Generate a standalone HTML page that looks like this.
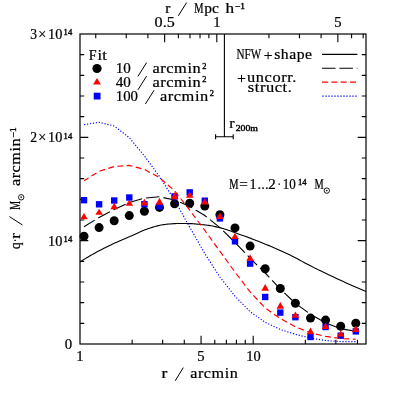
<!DOCTYPE html>
<html><head><meta charset="utf-8"><title>plot</title>
<style>
html,body{margin:0;padding:0;background:#fff;}
#c{will-change:transform;position:relative;width:399px;height:399px;overflow:hidden;background:#fff;font-family:"Liberation Serif",serif;color:#000;}
</style></head><body>
<div id="c">
<svg width="399" height="399" viewBox="0 0 399 399" style="position:absolute;left:0;top:0">
<rect x="0" y="0" width="399" height="399" fill="#fff"/>
<rect x="80.0" y="34.0" width="286.0" height="310.0" fill="none" stroke="#000" stroke-width="1.2"/>
<path d="M132.14,344.0 v-4.2 M162.64,344.0 v-4.2 M184.28,344.0 v-4.2 M201.06,344.0 v-8.3 M214.78,344.0 v-4.2 M226.37,344.0 v-4.2 M236.42,344.0 v-4.2 M245.27,344.0 v-4.2 M253.20,344.0 v-8.3 M305.34,344.0 v-4.2 M335.84,344.0 v-4.2 M357.48,344.0 v-4.2 M95.74,34.0 v4.2 M126.24,34.0 v4.2 M147.88,34.0 v4.2 M164.66,34.0 v8.3 M178.38,34.0 v4.2 M189.97,34.0 v4.2 M200.02,34.0 v4.2 M208.87,34.0 v4.2 M216.80,34.0 v8.3 M268.94,34.0 v4.2 M299.44,34.0 v4.2 M321.08,34.0 v4.2 M337.86,34.0 v8.3 M351.58,34.0 v4.2 M363.17,34.0 v4.2 M80.0,323.33 h4.2 M366.0,323.33 h-4.2 M80.0,302.67 h4.2 M366.0,302.67 h-4.2 M80.0,282.00 h4.2 M366.0,282.00 h-4.2 M80.0,261.33 h4.2 M366.0,261.33 h-4.2 M80.0,240.67 h8.3 M366.0,240.67 h-8.3 M80.0,220.00 h4.2 M366.0,220.00 h-4.2 M80.0,199.33 h4.2 M366.0,199.33 h-4.2 M80.0,178.67 h4.2 M366.0,178.67 h-4.2 M80.0,158.00 h4.2 M366.0,158.00 h-4.2 M80.0,137.33 h8.3 M366.0,137.33 h-8.3 M80.0,116.67 h4.2 M366.0,116.67 h-4.2 M80.0,96.00 h4.2 M366.0,96.00 h-4.2 M80.0,75.33 h4.2 M366.0,75.33 h-4.2 M80.0,54.67 h4.2 M366.0,54.67 h-4.2" fill="none" stroke="#000" stroke-width="1.1"/>
<g fill="#000"><circle cx="84.0" cy="236.3" r="4.5"/><circle cx="99.1" cy="227.6" r="4.5"/><circle cx="114.2" cy="220.8" r="4.5"/><circle cx="129.3" cy="215.6" r="4.5"/><circle cx="144.4" cy="211.3" r="4.5"/><circle cx="159.5" cy="207.4" r="4.5"/><circle cx="174.6" cy="203.8" r="4.5"/><circle cx="189.7" cy="203.2" r="4.5"/><circle cx="204.8" cy="206.1" r="4.5"/><circle cx="219.9" cy="214.7" r="4.5"/><circle cx="235.0" cy="227.9" r="4.5"/><circle cx="250.1" cy="246.1" r="4.5"/><circle cx="265.2" cy="268.8" r="4.5"/><circle cx="280.3" cy="288.5" r="4.5"/><circle cx="295.4" cy="303.2" r="4.5"/><circle cx="310.5" cy="318.1" r="4.5"/><circle cx="325.6" cy="320.1" r="4.5"/><circle cx="340.7" cy="326.3" r="4.5"/><circle cx="355.8" cy="323.2" r="4.5"/></g>
<path d="M80.00,262.00 L80.30,261.80 L80.56,261.63 L80.78,261.47 L80.98,261.33 L81.18,261.18 L81.40,261.02 L81.65,260.85 L81.96,260.65 L82.32,260.42 L82.78,260.13 L83.33,259.80 L84.00,259.40 L84.79,258.93 L85.69,258.40 L86.69,257.81 L87.77,257.17 L88.92,256.50 L90.11,255.81 L91.35,255.09 L92.61,254.37 L93.88,253.65 L95.14,252.94 L96.39,252.26 L97.60,251.60 L98.81,250.96 L100.05,250.31 L101.32,249.65 L102.61,249.00 L103.90,248.34 L105.20,247.69 L106.49,247.05 L107.77,246.43 L109.03,245.81 L110.26,245.22 L111.45,244.65 L112.60,244.10 L113.71,243.58 L114.80,243.08 L115.86,242.59 L116.90,242.13 L117.92,241.68 L118.92,241.24 L119.91,240.82 L120.87,240.40 L121.82,240.00 L122.76,239.59 L123.69,239.20 L124.60,238.80 L125.49,238.41 L126.35,238.04 L127.19,237.69 L128.00,237.34 L128.80,237.00 L129.59,236.67 L130.37,236.34 L131.16,236.00 L131.95,235.67 L132.75,235.32 L133.56,234.97 L134.40,234.60 L135.24,234.22 L136.07,233.83 L136.89,233.44 L137.71,233.03 L138.54,232.63 L139.38,232.22 L140.23,231.81 L141.11,231.40 L142.02,230.99 L142.97,230.59 L143.96,230.19 L145.00,229.80 L146.10,229.41 L147.24,229.00 L148.44,228.59 L149.67,228.17 L150.93,227.76 L152.22,227.36 L153.52,226.96 L154.83,226.58 L156.14,226.22 L157.44,225.88 L158.73,225.58 L160.00,225.30 L161.26,225.05 L162.52,224.83 L163.79,224.64 L165.06,224.46 L166.33,224.31 L167.59,224.17 L168.86,224.05 L170.12,223.94 L171.38,223.84 L172.63,223.75 L173.87,223.67 L175.10,223.60 L176.35,223.54 L177.63,223.50 L178.94,223.47 L180.25,223.46 L181.56,223.46 L182.84,223.47 L184.10,223.49 L185.31,223.51 L186.46,223.54 L187.53,223.56 L188.52,223.58 L189.40,223.60 L190.14,223.61 L190.73,223.62 L191.19,223.62 L191.56,223.63 L191.87,223.63 L192.16,223.64 L192.44,223.66 L192.76,223.69 L193.14,223.72 L193.62,223.77 L194.23,223.83 L195.00,223.90 L195.92,223.99 L196.95,224.08 L198.09,224.18 L199.30,224.29 L200.58,224.41 L201.91,224.54 L203.27,224.69 L204.64,224.84 L206.02,225.01 L207.39,225.19 L208.72,225.39 L210.00,225.60 L211.26,225.83 L212.52,226.07 L213.79,226.33 L215.06,226.60 L216.33,226.89 L217.59,227.19 L218.86,227.50 L220.12,227.82 L221.38,228.15 L222.63,228.49 L223.87,228.84 L225.10,229.20 L226.33,229.58 L227.57,229.98 L228.82,230.40 L230.06,230.84 L231.30,231.28 L232.53,231.74 L233.74,232.19 L234.94,232.64 L236.10,233.08 L237.24,233.51 L238.34,233.92 L239.40,234.30 L240.38,234.65 L241.27,234.96 L242.09,235.24 L242.86,235.51 L243.60,235.76 L244.34,236.02 L245.10,236.28 L245.90,236.57 L246.77,236.89 L247.73,237.24 L248.80,237.64 L250.00,238.10 L251.34,238.62 L252.80,239.18 L254.36,239.78 L256.00,240.42 L257.71,241.08 L259.46,241.78 L261.25,242.48 L263.06,243.20 L264.86,243.93 L266.65,244.66 L268.40,245.38 L270.10,246.10 L271.77,246.81 L273.44,247.52 L275.11,248.24 L276.78,248.97 L278.45,249.70 L280.11,250.44 L281.78,251.19 L283.44,251.95 L285.11,252.72 L286.77,253.50 L288.44,254.29 L290.10,255.10 L291.78,255.93 L293.48,256.80 L295.19,257.69 L296.92,258.60 L298.64,259.53 L300.36,260.45 L302.05,261.37 L303.73,262.27 L305.36,263.16 L306.96,264.01 L308.51,264.83 L310.00,265.60 L311.41,266.32 L312.74,266.99 L314.00,267.62 L315.21,268.22 L316.38,268.80 L317.54,269.37 L318.70,269.93 L319.88,270.50 L321.09,271.08 L322.36,271.69 L323.69,272.32 L325.10,273.00 L326.59,273.71 L328.14,274.46 L329.73,275.22 L331.37,276.00 L333.04,276.80 L334.74,277.60 L336.45,278.41 L338.19,279.22 L339.92,280.03 L341.66,280.83 L343.39,281.62 L345.10,282.40 L346.81,283.16 L348.53,283.92 L350.26,284.68 L352.00,285.43 L353.74,286.18 L355.49,286.92 L357.25,287.67 L359.00,288.41 L360.75,289.16 L362.51,289.90 L364.26,290.65 L366.00,291.40" fill="none" stroke="#000" stroke-width="1.1"/>
<path d="M84.00,226.80 L99.10,217.40 L114.20,209.40 L129.30,202.50 L144.40,198.10 L159.50,196.80 L174.60,200.00 L189.70,206.30 L204.80,215.50 L219.90,227.60 L235.00,242.50 L250.10,258.20 L265.20,273.00 L280.30,289.10 L295.40,303.30 L310.50,314.30 L325.60,322.90 L340.70,328.80 L355.80,331.30" fill="none" stroke="#000" stroke-width="1.1" stroke-dasharray="13.3 4.1" stroke-dashoffset="0.7" stroke-linejoin="round"/>
<g fill="#00f"><rect x="80.8" y="197.0" width="6.4" height="6.4"/><rect x="95.9" y="201.1" width="6.4" height="6.4"/><rect x="111.0" y="197.3" width="6.4" height="6.4"/><rect x="126.1" y="194.3" width="6.4" height="6.4"/><rect x="141.2" y="201.0" width="6.4" height="6.4"/><rect x="156.3" y="203.0" width="6.4" height="6.4"/><rect x="171.4" y="193.2" width="6.4" height="6.4"/><rect x="186.5" y="189.2" width="6.4" height="6.4"/><rect x="201.6" y="197.5" width="6.4" height="6.4"/><rect x="216.7" y="215.2" width="6.4" height="6.4"/><rect x="231.8" y="238.1" width="6.4" height="6.4"/><rect x="246.9" y="260.4" width="6.4" height="6.4"/><rect x="262.0" y="293.8" width="6.4" height="6.4"/><rect x="277.1" y="309.4" width="6.4" height="6.4"/><rect x="292.2" y="314.0" width="6.4" height="6.4"/><rect x="307.3" y="333.8" width="6.4" height="6.4"/><rect x="322.4" y="323.8" width="6.4" height="6.4"/><rect x="337.5" y="332.5" width="6.4" height="6.4"/><rect x="352.6" y="328.2" width="6.4" height="6.4"/></g>
<path d="M84.00,124.60 L99.10,122.30 L114.20,126.00 L129.30,137.70 L144.40,155.90 L159.50,176.40 L174.60,200.30 L189.70,227.10 L204.80,253.60 L219.90,277.00 L235.00,296.20 L250.10,311.60 L265.20,322.30 L280.30,329.50 L295.40,334.30 L310.50,338.10 L325.60,340.50 L340.70,341.60 L355.80,341.60" fill="none" stroke="#00f" stroke-width="1.15" stroke-dasharray="1.2 1.76" stroke-dashoffset="-0.1" stroke-linejoin="round"/>
<g fill="#f00"><path d="M84.0,212.9 L87.8,219.3 L80.2,219.3Z"/><path d="M99.1,208.8 L102.9,214.8 L95.3,214.8Z"/><path d="M114.2,202.8 L118.0,209.2 L110.4,209.2Z"/><path d="M129.3,199.8 L133.1,205.8 L125.5,205.8Z"/><path d="M144.4,198.8 L148.2,205.6 L140.6,205.6Z"/><path d="M159.5,197.7 L163.3,204.8 L155.7,204.8Z"/><path d="M174.6,192.0 L178.4,199.2 L170.8,199.2Z"/><path d="M189.7,191.8 L193.5,197.8 L185.9,197.8Z"/><path d="M204.8,198.6 L208.6,204.6 L201.0,204.6Z"/><path d="M219.9,212.6 L223.7,218.9 L216.1,218.9Z"/><path d="M235.0,232.9 L238.8,238.9 L231.2,238.9Z"/><path d="M250.1,254.5 L253.9,260.7 L246.3,260.7Z"/><path d="M265.2,283.9 L269.0,290.7 L261.4,290.7Z"/><path d="M280.3,302.1 L284.1,308.7 L276.5,308.7Z"/><path d="M295.4,311.5 L299.2,317.8 L291.6,317.8Z"/><path d="M310.5,327.6 L314.3,334.2 L306.7,334.2Z"/><path d="M325.6,322.7 L329.4,329.0 L321.8,329.0Z"/><path d="M340.7,330.4 L344.5,336.5 L336.9,336.5Z"/><path d="M355.8,325.6 L359.6,332.0 L352.0,332.0Z"/></g>
<path d="M84.00,180.80 L99.10,171.30 L114.20,166.50 L129.30,165.40 L144.40,169.40 L159.50,177.60 L174.60,190.80 L189.70,210.20 L204.80,230.40 L219.90,251.30 L235.00,272.10 L250.10,291.90 L265.20,308.00 L280.30,318.50 L295.40,326.80 L310.50,332.80 L325.60,336.40 L340.70,338.60 L355.80,339.20" fill="none" stroke="#f00" stroke-width="1.15" stroke-dasharray="5.9 3.43" stroke-dashoffset="0.5" stroke-linejoin="round"/>
<path d="M224.4,34.0 V136.8 M215.6,136.8 H233.2 M215.6,134.3 v5 M233.2,134.3 v5" fill="none" stroke="#000" stroke-width="1.1"/>
<circle cx="97" cy="68.5" r="4.6" fill="#000"/>
<path d="M97,78 L100.9,84.5 L93.1,84.5Z" fill="#f00"/>
<rect x="93.7" y="92.7" width="6.8" height="6.8" fill="#00f"/>
<path d="M322,54.4 H357.4" stroke="#000" stroke-width="1.1"/>
<path d="M322,68.3 H357.4" stroke="#000" stroke-width="1.1" stroke-dasharray="13.5 3.9"/>
<path d="M322,82.05 H356.2" stroke="#f00" stroke-width="1.2" stroke-dasharray="5.9 3.47"/>
<path d="M322.35,96.0 H357" stroke="#00f" stroke-width="1.25" stroke-dasharray="1.3 1.7"/>
<g font-family="Liberation Serif, serif" fill="#000" stroke="#000" stroke-width="0.22">
<text x="30.30" y="38.50" font-size="13.6" textLength="6.80" lengthAdjust="spacingAndGlyphs"  >3</text>
<text x="38.20" y="38.50" font-size="13.6" textLength="8.00" lengthAdjust="spacingAndGlyphs"  >×</text>
<text x="48.00" y="38.50" font-size="13.6" textLength="14.30" lengthAdjust="spacingAndGlyphs"  >10</text>
<text x="63.60" y="35.00" font-size="7.5" textLength="8.60" lengthAdjust="spacingAndGlyphs"   stroke="#000" stroke-width="0.35">14</text>
<text x="30.30" y="142.00" font-size="13.6" textLength="6.80" lengthAdjust="spacingAndGlyphs"  >2</text>
<text x="38.20" y="142.00" font-size="13.6" textLength="8.00" lengthAdjust="spacingAndGlyphs"  >×</text>
<text x="48.00" y="142.00" font-size="13.6" textLength="14.30" lengthAdjust="spacingAndGlyphs"  >10</text>
<text x="63.60" y="138.50" font-size="7.5" textLength="8.60" lengthAdjust="spacingAndGlyphs"   stroke="#000" stroke-width="0.35">14</text>
<text x="48.00" y="245.80" font-size="13.6" textLength="14.30" lengthAdjust="spacingAndGlyphs"  >10</text>
<text x="63.60" y="242.20" font-size="7.5" textLength="8.60" lengthAdjust="spacingAndGlyphs"   stroke="#000" stroke-width="0.35">14</text>
<text x="64.80" y="348.80" font-size="13.6" textLength="7.40" lengthAdjust="spacingAndGlyphs"  >0</text>
<text x="76.35" y="360.50" font-size="13.6" textLength="7.30" lengthAdjust="spacingAndGlyphs"  >1</text>
<text x="197.15" y="360.50" font-size="13.6" textLength="7.30" lengthAdjust="spacingAndGlyphs"  >5</text>
<text x="246.20" y="360.50" font-size="13.6" textLength="14.40" lengthAdjust="spacingAndGlyphs"  >10</text>
<text x="154.60" y="27.10" font-size="13.6" textLength="20.10" lengthAdjust="spacingAndGlyphs"  >0.5</text>
<text x="213.15" y="27.10" font-size="13.6" textLength="7.30" lengthAdjust="spacingAndGlyphs"  >1</text>
<text x="334.15" y="27.10" font-size="13.6" textLength="7.30" lengthAdjust="spacingAndGlyphs"  >5</text>
<text x="161.50" y="377.50" font-size="14.3" textLength="5.80" lengthAdjust="spacingAndGlyphs"  >r</text>
<path d="M175.2,380.8 L183.3,367.6" stroke="#000" stroke-width="1.0" fill="none"/>
<text x="190.20" y="377.50" font-size="14.3" textLength="48.20" lengthAdjust="spacingAndGlyphs" letter-spacing="0.5" >arcmin</text>
<text x="165.20" y="13.30" font-size="14.3" textLength="5.10" lengthAdjust="spacingAndGlyphs"  >r</text>
<path d="M178.3,15.8 L186.6,2.6" stroke="#000" stroke-width="1.0" fill="none"/>
<text x="194.30" y="13.30" font-size="13.6" textLength="9.30" lengthAdjust="spacingAndGlyphs"  >M</text>
<text x="204.20" y="13.30" font-size="14.3" textLength="14.60" lengthAdjust="spacingAndGlyphs"  >pc</text>
<text x="225.60" y="13.30" font-size="14.3" textLength="8.60" lengthAdjust="spacingAndGlyphs"  >h</text>
<text x="235.00" y="8.80" font-size="7.5" textLength="10.00" lengthAdjust="spacingAndGlyphs"   stroke="#000" stroke-width="0.35">−1</text>
<text x="88.80" y="59.80" font-size="13.6" textLength="7.80" lengthAdjust="spacingAndGlyphs"  >F</text>
<text x="97.60" y="59.80" font-size="14.3" textLength="9.20" lengthAdjust="spacingAndGlyphs"  >it</text>
<text x="115.80" y="73.20" font-size="13.6" textLength="15.10" lengthAdjust="spacingAndGlyphs"  >10</text>
<path d="M137.9,76.4 L146.6,62.6" stroke="#000" stroke-width="1.0" fill="none"/>
<text x="152.40" y="73.20" font-size="14.3" textLength="48.90" lengthAdjust="spacingAndGlyphs" letter-spacing="0.5" >arcmin</text>
<text x="202.20" y="68.60" font-size="7.5" textLength="4.20" lengthAdjust="spacingAndGlyphs"   stroke="#000" stroke-width="0.35">2</text>
<text x="115.80" y="86.70" font-size="13.6" textLength="15.10" lengthAdjust="spacingAndGlyphs"  >40</text>
<path d="M137.9,89.9 L146.6,76.10000000000001" stroke="#000" stroke-width="1.0" fill="none"/>
<text x="152.40" y="86.70" font-size="14.3" textLength="48.90" lengthAdjust="spacingAndGlyphs" letter-spacing="0.5" >arcmin</text>
<text x="202.20" y="82.10" font-size="7.5" textLength="4.20" lengthAdjust="spacingAndGlyphs"   stroke="#000" stroke-width="0.35">2</text>
<text x="115.80" y="100.80" font-size="13.6" textLength="22.20" lengthAdjust="spacingAndGlyphs"  >100</text>
<path d="M145.4,104.0 L154.1,90.2" stroke="#000" stroke-width="1.0" fill="none"/>
<text x="159.90" y="100.80" font-size="14.3" textLength="48.90" lengthAdjust="spacingAndGlyphs" letter-spacing="0.5" >arcmin</text>
<text x="209.70" y="96.20" font-size="7.5" textLength="4.20" lengthAdjust="spacingAndGlyphs"   stroke="#000" stroke-width="0.35">2</text>
<text x="236.50" y="58.80" font-size="13.6" textLength="24.70" lengthAdjust="spacingAndGlyphs"  >NFW</text>
<path d="M264.3,55.5 L271.9,55.5" stroke="#000" stroke-width="1.0" fill="none"/>
<path d="M268.1,51.9 L268.1,59.2" stroke="#000" stroke-width="1.0" fill="none"/>
<text x="274.20" y="58.80" font-size="14.3" textLength="38.40" lengthAdjust="spacingAndGlyphs" letter-spacing="0.5" >shape</text>
<path d="M237.7,78.5 L245.3,78.5" stroke="#000" stroke-width="1.0" fill="none"/>
<path d="M241.5,74.9 L241.5,82.2" stroke="#000" stroke-width="1.0" fill="none"/>
<text x="247.10" y="82.20" font-size="14.3" textLength="49.90" lengthAdjust="spacingAndGlyphs" letter-spacing="0.5" >uncorr.</text>
<text x="247.80" y="92.20" font-size="14.3" textLength="44.60" lengthAdjust="spacingAndGlyphs" letter-spacing="0.5" >struct.</text>
<text x="229.30" y="127.60" font-size="14.3" textLength="5.30" lengthAdjust="spacingAndGlyphs"  >r</text>
<text x="235.70" y="130.80" font-size="7.2" textLength="22.30" lengthAdjust="spacingAndGlyphs"   stroke="#000" stroke-width="0.35">200m</text>
<text x="229.20" y="189.30" font-size="13.6" textLength="9.30" lengthAdjust="spacingAndGlyphs"  >M</text>
<text x="239.30" y="189.30" font-size="13.6" textLength="8.60" lengthAdjust="spacingAndGlyphs"  >=</text>
<text x="249.50" y="189.30" font-size="13.6" textLength="7.00" lengthAdjust="spacingAndGlyphs"  >1</text>
<text x="257.60" y="189.30" font-size="13.6" textLength="11.00" lengthAdjust="spacingAndGlyphs"  >...</text>
<text x="268.30" y="189.30" font-size="13.6" textLength="7.50" lengthAdjust="spacingAndGlyphs"  >2</text>
<text x="277.50" y="189.30" font-size="13.6" textLength="3.40" lengthAdjust="spacingAndGlyphs"  >·</text>
<text x="282.80" y="189.30" font-size="13.6" textLength="13.00" lengthAdjust="spacingAndGlyphs"  >10</text>
<text x="298.00" y="185.30" font-size="7.5" textLength="8.60" lengthAdjust="spacingAndGlyphs"   stroke="#000" stroke-width="0.35">14</text>
<text x="314.50" y="189.30" font-size="13.6" textLength="9.20" lengthAdjust="spacingAndGlyphs"  >M</text>
<circle cx="326.8" cy="190.6" r="2.7" fill="none" stroke="#000" stroke-width="0.9"/><circle cx="326.8" cy="190.6" r="0.7" fill="#000"/>
<g transform="translate(19.9,249) rotate(-90)">
<text x="-0.20" y="0.00" font-size="14.3" textLength="7.00" lengthAdjust="spacingAndGlyphs"  >q</text>
<text x="6.90" y="0.00" font-size="13.6" textLength="3.20" lengthAdjust="spacingAndGlyphs"  >·</text>
<text x="10.30" y="0.00" font-size="14.3" textLength="5.70" lengthAdjust="spacingAndGlyphs"  >r</text>
<path d="M24.0,2.6 L32.4,-10.5" stroke="#000" stroke-width="1.0" fill="none"/>
<text x="39.20" y="0.00" font-size="13.6" textLength="8.80" lengthAdjust="spacingAndGlyphs"  >M</text>
<circle cx="51.7" cy="1.3" r="2.7" fill="none" stroke="#000" stroke-width="0.9"/><circle cx="51.7" cy="1.3" r="0.7" fill="#000"/>
<text x="62.90" y="0.00" font-size="14.3" textLength="48.30" lengthAdjust="spacingAndGlyphs" letter-spacing="0.5" >arcmin</text>
<text x="111.60" y="-4.00" font-size="7.5" textLength="10.00" lengthAdjust="spacingAndGlyphs"   stroke="#000" stroke-width="0.35">−1</text>
</g>
</g></svg>

</div>
</body></html>
